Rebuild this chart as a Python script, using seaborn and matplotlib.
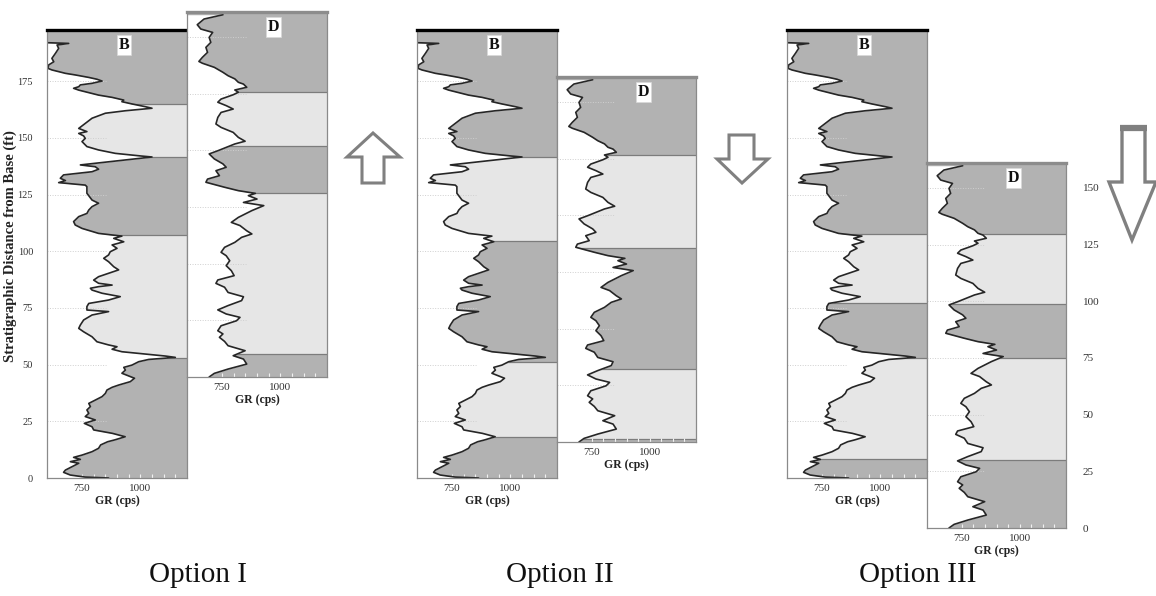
import matplotlib
matplotlib.use("Agg")
import matplotlib.pyplot as plt
import seaborn as sns
import pandas as pd
from matplotlib.patches import Polygon
from matplotlib.ticker import MultipleLocator

# ---------------------------------------------------------------------------
# Gamma-ray logs (depth in ft above the base of each section, GR in cps)
# ---------------------------------------------------------------------------
b_depth = [192.0, 191.7, 191.0, 189.5, 187.3, 185.1, 183.6, 182.2, 180.7, 180.0,
           178.5, 177.8, 176.7, 175.9, 175.1, 174.1, 173.4, 172.6, 171.9, 171.1,
           170.0, 168.9, 167.9, 166.7, 166.0, 165.0, 163.8, 163.1, 162.0, 160.9,
           158.7, 156.4, 154.2, 152.8, 152.0, 150.9, 149.8, 148.4, 146.2, 144.7,
           143.2, 142.0, 141.6, 140.3, 138.8, 138.1, 137.3, 136.2, 135.1, 133.7,
           132.2, 131.2, 130.3, 129.2, 128.5, 125.6, 122.6, 121.2, 119.7, 118.2,
           116.7, 115.3, 113.1, 111.6, 110.1, 107.9, 106.7, 105.7, 104.2, 102.8,
           101.3, 99.8, 98.4, 96.9, 95.4, 93.2, 91.8, 90.3, 88.8, 87.3,
           85.9, 85.1, 84.4, 83.7, 82.9, 81.5, 80.0, 78.5, 77.0, 75.6,
           74.1, 73.4, 71.9, 69.7, 67.5, 66.0, 64.5, 62.3, 60.1, 58.7,
           57.9, 56.8, 55.7, 54.7, 53.8, 53.2, 52.3, 51.3, 49.8, 48.8,
           47.6, 46.2, 45.0, 44.0, 42.5, 41.0, 40.0, 38.8, 37.3, 35.9,
           34.4, 32.9, 31.5, 30.0, 28.5, 27.1, 25.6, 24.1, 22.6, 21.2,
           19.7, 18.2, 16.8, 16.0, 14.6, 13.1, 11.6, 10.1, 9.1, 8.2,
           7.2, 6.5, 5.0, 3.5, 2.5, 1.3, 0.4, 0.0]
b_gr = [605, 693, 643, 650, 636, 621, 629, 607, 604, 621,
        679, 721, 779, 814, 836, 793, 743, 736, 714, 736,
        779, 821, 879, 929, 921, 964, 1021, 1050, 936, 850,
        793, 764, 736, 771, 736, 757, 764, 750, 771, 821,
        893, 1007, 1050, 936, 807, 743, 807, 821, 793, 671,
        657, 679, 650, 764, 771, 771, 793, 821, 793, 779,
        771, 736, 714, 721, 750, 821, 921, 886, 929, 879,
        900, 871, 864, 843, 864, 886, 907, 864, 821, 800,
        821, 879, 821, 786, 793, 836, 914, 864, 779, 771,
        771, 864, 793, 757, 743, 736, 757, 793, 814, 864,
        900, 879, 921, 1021, 1107, 1150, 1036, 993, 964, 929,
        936, 921, 950, 975, 957, 907, 879, 857, 850, 836,
        807, 779, 786, 771, 779, 764, 807, 760, 793, 800,
        880, 935, 890, 860, 830, 821, 793, 750, 714, 743,
        700, 736, 707, 679, 671, 700, 764, 864]

d_depth = [159.8, 157.9, 155.4, 153.5, 152.0, 149.8, 147.6, 145.4, 143.2, 141.0,
           139.2, 138.4, 136.6, 134.4, 132.9, 131.5, 130.0, 129.2, 127.8, 126.6,
           125.6, 124.5, 122.6, 121.2, 119.7, 118.2, 116.7, 114.5, 111.6, 110.1,
           107.9, 105.7, 104.0, 102.8, 99.8, 98.4, 96.2, 94.0, 92.5, 91.0,
           88.8, 87.3, 85.9, 85.1, 83.7, 82.2, 81.0, 80.0, 78.5, 77.0,
           75.6, 73.4, 70.4, 68.2, 66.8, 64.5, 63.1, 61.6, 59.4, 57.2,
           55.0, 53.5, 51.3, 49.1, 46.9, 44.7, 42.8, 41.3, 39.6, 37.3,
           35.4, 33.7, 31.5, 29.6, 27.8, 26.3, 24.8, 22.6, 20.4, 19.0,
           17.5, 15.7, 13.8, 11.6, 9.4, 7.9, 5.7, 3.5, 1.6, 0.0]
d_gr = [754, 673, 644, 659, 710, 695, 702, 681, 688, 666,
        651, 666, 717, 754, 776, 805, 820, 842, 856, 805,
        820, 798, 746, 732, 768, 798, 746, 732, 724, 746,
        798, 820, 849, 805, 732, 695, 717, 754, 768, 724,
        739, 688, 681, 710, 761, 820, 893, 863, 900, 842,
        929, 878, 820, 790, 827, 856, 878, 834, 805, 761,
        746, 768, 783, 768, 790, 802, 732, 724, 761, 776,
        842, 834, 776, 732, 768, 827, 812, 746, 732, 754,
        739, 761, 776, 849, 798, 842, 856, 776, 717, 695]

# Facies intervals (base, top, shade) for each correlation option
opt1_b_bands = [(0, 53, "dark"), (53, 107, "light"), (107, 141.5, "dark"),
                (141.5, 165, "light"), (165, 250, "dark")]
opt1_d_bands = [(0, 10, "dark"), (10, 81, "light"), (81, 102, "dark"),
                (102, 125.5, "light"), (125.5, 250, "dark")]
opt2_b_bands = [(0, 18, "dark"), (18, 51, "light"), (51, 104.5, "dark"),
                (104.5, 141.5, "light"), (141.5, 250, "dark")]
opt2_d_bands = [(0, 1.5, "dark"), (1.5, 32, "light"), (32, 85.5, "dark"),
                (85.5, 126.5, "light"), (126.5, 250, "dark")]
opt3_b_bands = [(0, 8.5, "dark"), (8.5, 53, "light"), (53, 77, "dark"),
                (77, 107.5, "light"), (107.5, 250, "dark")]
opt3_d_bands = [(0, 30, "dark"), (30, 75, "light"), (75, 98.8, "dark"),
                (98.8, 129.5, "light"), (129.5, 250, "dark")]

option_titles = ["Option I", "Option II", "Option III"]
gr_ticks = [750, 1000]
b_depth_ticks = [0, 25, 50, 75, 100, 125, 150, 175]
d_depth_ticks = [0, 25, 50, 75, 100, 125, 150]

b_log = pd.DataFrame({"depth": b_depth, "gr": b_gr})
d_log = pd.DataFrame({"depth": d_depth, "gr": d_gr})

# ---------------------------------------------------------------------------
sns.set_theme(style="white")
plt.rcParams["font.family"] = ["Liberation Serif", "DejaVu Serif"]

W, H = 1156, 596
fig = plt.figure(figsize=(W / 100, H / 100), dpi=100)

PX_PER_FT = 2.267
GR_MIN, GR_MAX = 600, 1200
SHADES = {"dark": "#b2b2b2", "light": "#e6e6e6"}
FRAME = "#8a8a8a"


def axes_px(left, right, top, bottom):
    return fig.add_axes([left / W, 1 - bottom / H, (right - left) / W, (bottom - top) / H])


def draw_log(ax, log, bands, ticks, top_color, letter, letter_x, height_px):
    ytop = height_px / PX_PER_FT
    for lo, hi, shade in bands:
        ax.axhspan(lo, hi, color=SHADES[shade], lw=0, zorder=0)
    for lo, hi, shade in bands[1:]:
        ax.axhline(lo, color="#7c7c7c", lw=0.9, zorder=0.5)
    ax.fill_betweenx(log["depth"], GR_MIN, log["gr"], color="white", lw=0, zorder=1)
    for t in ticks[1:]:
        ax.axhline(t, xmax=0.42, ls=(0, (1, 1.6)), color="#cfcfcf", lw=0.7, zorder=1.5)
    sns.lineplot(data=log, x="gr", y="depth", orient="y", sort=False, estimator=None,
                 color="#262626", lw=1.2, ax=ax, zorder=3)
    ax.set_xlim(GR_MIN, GR_MAX)
    ax.set_ylim(0, ytop)
    ax.set_xticks(gr_ticks)
    ax.xaxis.set_minor_locator(MultipleLocator(50))
    ax.tick_params(axis="x", which="both", direction="in", bottom=True, length=3,
                   width=0.8, color="#f2f2f2", labelsize=8, pad=4, labelcolor="#333333")
    ax.set_xlabel("GR (cps)", fontsize=8.5, fontweight="bold", color="#222222", labelpad=2)
    ax.set_ylabel("")
    ax.set_yticks(ticks)
    ax.tick_params(axis="y", left=False, right=False, labelleft=False, labelright=False)
    for side in ("left", "right", "bottom"):
        ax.spines[side].set_color(FRAME)
        ax.spines[side].set_linewidth(0.9)
        ax.spines[side].set_zorder(4)
    ax.spines["top"].set_color(top_color)
    ax.spines["top"].set_linewidth(2.4)
    ax.spines["top"].set_zorder(5)
    ax.text(letter_x, 1 - 15 / height_px, letter, transform=ax.transAxes,
            ha="center", va="center", fontsize=11.5, fontweight="bold", color="#111111",
            zorder=6, bbox=dict(fc="white", ec="#d8d8d8", lw=0.5, pad=1.2))


B_TOP, B_BOTTOM = 30, 478
panels = [
    # (B left, B right, D left, D right, D top, D bottom, B bands, D bands)
    (47, 187, 187, 327, 12, 377, opt1_b_bands, opt1_d_bands),
    (417, 557, 557, 696, 77, 442, opt2_b_bands, opt2_d_bands),
    (787, 927, 927, 1066, 163, 528, opt3_b_bands, opt3_d_bands),
]

for i, (bl, br, dl, dr, dt, db, bb, dbands) in enumerate(panels):
    ax_b = axes_px(bl, br, B_TOP, B_BOTTOM)
    draw_log(ax_b, b_log, bb, b_depth_ticks, "#000000", "B", 0.55, B_BOTTOM - B_TOP)
    ax_d = axes_px(dl, dr, dt, db)
    draw_log(ax_d, d_log, dbands, d_depth_ticks, "#8c8c8c", "D", 0.62, db - dt)
    if i == 0:
        ax_b.tick_params(axis="y", labelleft=True, labelsize=7.5, pad=4, labelcolor="#333333")
    if i == 2:
        ax_d.tick_params(axis="y", labelright=True, labelsize=8, pad=6, labelcolor="#333333")

fig.text(10 / W, 1 - 246 / H, "Stratigraphic Distance from Base (ft)", rotation=90,
         ha="center", va="center", fontsize=10.5, fontweight="bold", color="#222222")

# Overlay in pixel units for the shift arrows and option captions
ov = fig.add_axes([0, 0, 1, 1], zorder=-1)
ov.set_xlim(0, W)
ov.set_ylim(H, 0)
ov.axis("off")

arrow_up = [(362, 183), (362, 157), (347, 157), (373, 133), (400, 157), (384, 157), (384, 183)]
arrow_down = [(729, 135), (754, 135), (754, 159), (768, 159), (742, 183), (717, 159), (729, 159)]
arrow_big = [(1122, 129), (1145, 129), (1145, 182), (1156, 182), (1132, 240), (1109, 182), (1122, 182)]
for pts, lw in ((arrow_up, 2.2), (arrow_down, 2.2), (arrow_big, 2.4)):
    ov.add_patch(Polygon(pts, closed=True, fc="white", ec="#808080", lw=lw, joinstyle="miter"))
ov.plot([1120, 1147], [128, 128], color="#808080", lw=4.5, solid_capstyle="butt")

for x, title in zip((198, 560, 918), option_titles):
    ov.text(x, 575, title, ha="center", va="center", fontsize=21, color="#111111")

fig.savefig("out.png", dpi=100, facecolor="white")
